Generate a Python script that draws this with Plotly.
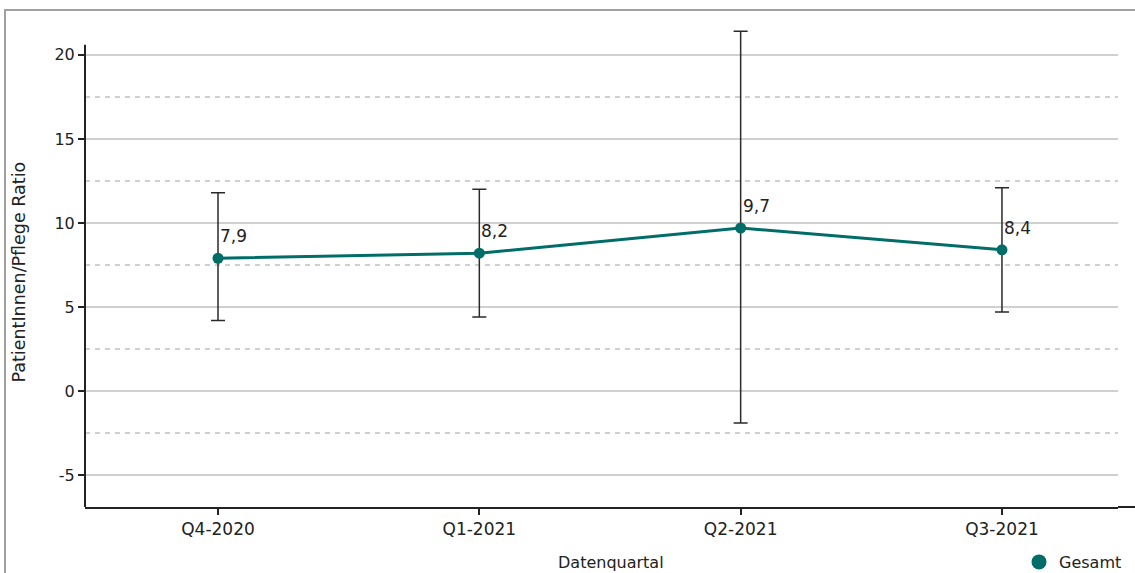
import plotly.graph_objects as go

categories = ["Q4-2020", "Q1-2021", "Q2-2021", "Q3-2021"]
values = [7.9, 8.2, 9.7, 8.4]
err_plus = [3.9, 3.8, 11.7, 3.7]
err_minus = [3.7, 3.8, 11.6, 3.7]
labels = ["7,9", "8,2", "9,7", "8,4"]
y_tickvals = [-5, 0, 5, 10, 15, 20]
y_ticktext = ["-5", "0", "5", "10", "15", "20"]
series_name = "Gesamt"
y_title = "PatientInnen/Pflege Ratio"
x_title = "Datenquartal"

TEAL = "#006d68"
FONT = "DejaVu Sans"
W, H = 1135, 573
OFF = 0  # body margin removed via post_script
PL, PR, PT, PB = 85, 1118, 28, 507  # plot area in window pixels
PW = PR - PL
PH = PB - PT
L = PL - OFF
T = PT - OFF
R = W - L - PW
B = H - T - PH
Y_MIN, Y_MAX = -6.9, 21.6
Y_AXIS_TOP = 20.6

x_idx = list(range(len(categories)))

fig = go.Figure()
fig.add_trace(go.Scatter(
    x=x_idx, y=values, mode="lines+markers",
    line=dict(color=TEAL, width=3),
    marker=dict(color=TEAL, size=11),
    error_y=dict(type="data", symmetric=False, array=err_plus, arrayminus=err_minus,
                 color="#2a2a2a", thickness=1.5, width=7),
    showlegend=False, hoverinfo="skip",
))
fig.add_trace(go.Scatter(
    x=[None], y=[None], mode="markers", name=series_name,
    marker=dict(color=TEAL, size=15), showlegend=True,
))

for xi, v, t in zip(x_idx, values, labels):
    fig.add_annotation(x=xi, y=v, text=t, showarrow=False, xanchor="left", yanchor="bottom",
                       xshift=0, yshift=10, font=dict(family=FONT, size=17, color="#222"))

def px_x(p):
    return (p - PL) / PW

def px_y(p):
    return 1 - (p - PT) / PH

fig.add_annotation(xref="paper", yref="paper", x=px_x(18.5), y=px_y(272), text=y_title,
                   textangle=-90, showarrow=False, xanchor="center", yanchor="middle",
                   font=dict(family=FONT, size=17.5, color="#222"))
fig.add_annotation(xref="paper", yref="paper", x=px_x(611), y=px_y(551), text=x_title,
                   showarrow=False, xanchor="center", yanchor="top",
                   font=dict(family=FONT, size=16, color="#222"))

# outer frame (partly cut off)
fig.add_shape(type="rect", xref="paper", yref="paper", x0=px_x(5), y0=px_y(700), x1=px_x(1300), y1=px_y(10),
              line=dict(color="#a0a0a0", width=2), layer="below")
# x-axis line extension to the right
fig.add_shape(type="line", xref="paper", yref="paper", x0=1, x1=px_x(1140), y0=0, y1=0,
              line=dict(color="#222", width=2))
# y-axis line (stops below the top of the plot area)
fig.add_shape(type="line", xref="paper", yref="y", x0=0, x1=0, y0=Y_MIN, y1=Y_AXIS_TOP,
              line=dict(color="#222", width=2))

fig.update_layout(
    width=W, height=H,
    margin=dict(l=L, r=R, t=T, b=B, autoexpand=False),
    paper_bgcolor="white", plot_bgcolor="white",
    font=dict(family=FONT, size=17, color="#222"),
    legend=dict(x=px_x(1019), y=px_y(545), xanchor="left", yanchor="top", orientation="h",
                font=dict(family=FONT, size=16, color="#222"), bgcolor="rgba(0,0,0,0)"),
    xaxis=dict(range=[-0.509, 3.444], tickvals=x_idx, ticktext=categories, automargin=False,
               showgrid=False, zeroline=False, showline=True, linecolor="#222", linewidth=2,
               ticks="outside", ticklen=6, tickcolor="#222", tickwidth=2,
               tickfont=dict(family=FONT, size=17, color="#222")),
    yaxis=dict(range=[Y_MIN, Y_MAX], tickvals=y_tickvals, ticktext=y_ticktext, automargin=False,
               showgrid=True, gridcolor="#d0d0d0", gridwidth=1.5,
               zeroline=False, showline=False,
               ticks="outside", ticklen=6, tickcolor="#222", tickwidth=2,
               tickfont=dict(family=FONT, size=16, color="#222"),
               minor=dict(tick0=2.5, dtick=5, showgrid=True, gridcolor="#cfcfcf", gridwidth=1.5,
                          griddash="5px,5px", ticks="")),
)

fig.write_html("out.html", config={"displayModeBar": False},
               post_script="document.body.style.margin='0';document.body.style.overflow='hidden';")
